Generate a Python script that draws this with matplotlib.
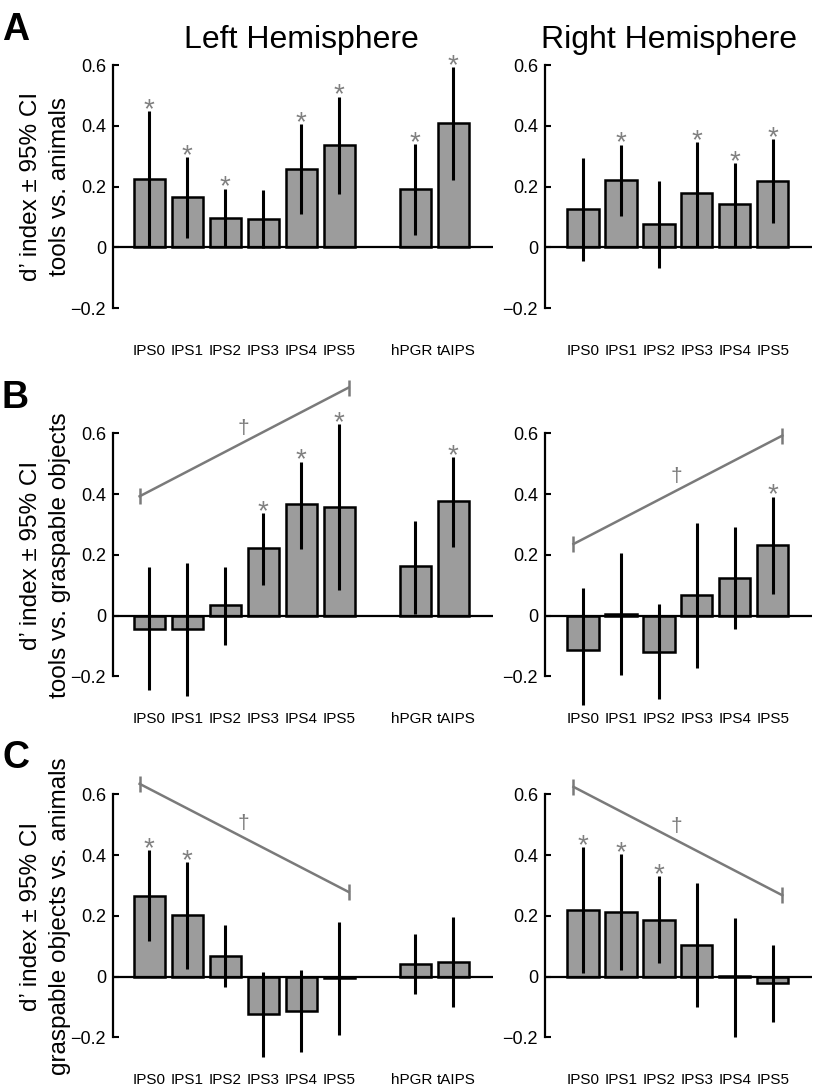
import numpy as np
import matplotlib
matplotlib.use('Agg')
import matplotlib.pyplot as plt
import matplotlib.transforms as mtransforms

plt.rcParams['font.family'] = ['Liberation Sans', 'DejaVu Sans']

# --- Data (d' index, lower / upper 95% CI, significance) ---
left_labels = ['IPS0', 'IPS1', 'IPS2', 'IPS3', 'IPS4', 'IPS5', 'hPGR', 'tAIPS']
right_labels = ['IPS0', 'IPS1', 'IPS2', 'IPS3', 'IPS4', 'IPS5']

# A: tools vs. animals
a_left_mean = [0.226, 0.165, 0.095, 0.092, 0.258, 0.337, 0.192, 0.408]
a_left_hi = [0.449, 0.296, 0.193, 0.189, 0.405, 0.496, 0.340, 0.594]
a_left_lo = [0.002, 0.030, 0.003, -0.002, 0.109, 0.177, 0.041, 0.222]
a_left_sig = [1, 1, 1, 0, 1, 1, 1, 1]

a_right_mean = [0.126, 0.223, 0.077, 0.179, 0.143, 0.218]
a_right_hi = [0.294, 0.338, 0.219, 0.347, 0.276, 0.355]
a_right_lo = [-0.044, 0.104, -0.069, 0.005, 0.005, 0.079]
a_right_sig = [0, 1, 0, 1, 1, 1]

# B: tools vs. graspable objects
b_left_mean = [-0.044, -0.044, 0.034, 0.223, 0.367, 0.358, 0.163, 0.376]
b_left_hi = [0.159, 0.174, 0.159, 0.338, 0.507, 0.630, 0.313, 0.523]
b_left_lo = [-0.245, -0.263, -0.096, 0.102, 0.221, 0.084, 0.007, 0.226]
b_left_sig = [0, 0, 0, 1, 1, 1, 0, 1]

b_right_mean = [-0.114, 0.005, -0.120, 0.067, 0.125, 0.233]
b_right_hi = [0.091, 0.207, 0.038, 0.305, 0.291, 0.392]
b_right_lo = [-0.294, -0.195, -0.274, -0.172, -0.044, 0.073]
b_right_sig = [0, 0, 0, 0, 0, 1]

# C: graspable objects vs. animals
c_left_mean = [0.267, 0.202, 0.069, -0.124, -0.113, -0.004, 0.043, 0.048]
c_left_hi = [0.416, 0.378, 0.170, 0.014, 0.022, 0.179, 0.140, 0.195]
c_left_lo = [0.117, 0.026, -0.033, -0.263, -0.249, -0.192, -0.058, -0.099]
c_left_sig = [1, 1, 0, 0, 0, 0, 0, 0]

c_right_mean = [0.221, 0.214, 0.188, 0.105, 0.001, -0.020]
c_right_hi = [0.427, 0.403, 0.331, 0.310, 0.193, 0.106]
c_right_lo = [0.013, 0.022, 0.044, -0.101, -0.197, -0.148]
c_right_sig = [1, 1, 1, 0, 0, 0]

# trend brackets across IPS0..IPS5 (value at IPS0 end, value at IPS5 end)
b_left_trend = [0.393, 0.751]
b_right_trend = [0.236, 0.593]
c_left_trend = [0.635, 0.279]
c_right_trend = [0.625, 0.268]

ylabels = ['tools vs. animals', 'tools vs. graspable objects', 'graspable objects vs. animals']

# --- Layout (pixels of the 815x1091 canvas) ---
W, H = 815, 1091
PX = 303.75            # pixels per d' unit
YLIM = (-0.31, 0.79)
row_zero = [247.3, 615.7, 976.7]
BAR_COLOR = '#9c9c9c'
GRAY = '#7a7a7a'

fig = plt.figure(figsize=(W / 100, H / 100), dpi=100)


def add_ax(x0, x1, zero):
    top = zero - YLIM[1] * PX
    bot = zero - YLIM[0] * PX
    return fig.add_axes([x0 / W, 1 - bot / H, (x1 - x0) / W, (bot - top) / H])


def draw(ax, labels, mean, lo, hi, sig, xlim, trend):
    # gap of one slot between IPS regions and hPGR/tAIPS
    x = np.array([i if i < 6 else i + 1 for i in range(len(labels))])
    ax.bar(x, mean, width=0.82, color=BAR_COLOR, edgecolor='black', linewidth=1.8, zorder=2)
    ax.vlines(x, lo, hi, color='black', linewidth=2.2, zorder=3)
    ax.axhline(0, color='black', linewidth=1.6, zorder=4)
    for xi, h, s in zip(x, hi, sig):
        if s:
            ax.annotate('*', (xi, h), xytext=(0, -4.3), textcoords='offset points',
                        ha='center', va='baseline', color='#808080', fontsize=20)
    if trend is not None:
        tx = [-0.25, 5.25]
        ax.plot(tx, trend, color=GRAY, linewidth=1.8, zorder=5, clip_on=False)
        ax.plot(tx, trend, linestyle='none', marker='|', markersize=12,
                markeredgewidth=1.8, color=GRAY, zorder=5, clip_on=False)
        mx = 2.47
        my = trend[0] + (trend[1] - trend[0]) * (mx - tx[0]) / (tx[1] - tx[0])
        ax.text(mx, my + 0.045, '\u2020', ha='center', va='center', color=GRAY, fontsize=15)

    ax.set_xlim(*xlim)
    ax.set_ylim(*YLIM)
    ax.set_xticks(x, labels)
    ax.tick_params(axis='x', length=0, labelsize=11, pad=1.5)
    # hPGR / tAIPS labels sit a little apart, as in the original
    for lab in ax.get_xticklabels():
        dx = {'hPGR': -3, 'tAIPS': 3}.get(lab.get_text(), 0)
        if dx:
            lab.set_transform(lab.get_transform() +
                              mtransforms.ScaledTranslation(dx / 100, 0, fig.dpi_scale_trans))
    ax.set_yticks([-0.2, 0, 0.2, 0.4, 0.6], ['\u22120.2', '0', '0.2', '0.4', '0.6'])
    ax.tick_params(axis='y', direction='in', length=4, width=1.5, labelsize=13, pad=5)
    for side in ['top', 'right', 'bottom']:
        ax.spines[side].set_visible(False)
    ax.spines['left'].set_bounds(-0.2, 0.6)
    ax.spines['left'].set_linewidth(1.6)
    ax.patch.set_visible(False)


panels = [
    (a_left_mean, a_left_lo, a_left_hi, a_left_sig, None,
     a_right_mean, a_right_lo, a_right_hi, a_right_sig, None),
    (b_left_mean, b_left_lo, b_left_hi, b_left_sig, b_left_trend,
     b_right_mean, b_right_lo, b_right_hi, b_right_sig, b_right_trend),
    (c_left_mean, c_left_lo, c_left_hi, c_left_sig, c_left_trend,
     c_right_mean, c_right_lo, c_right_hi, c_right_sig, c_right_trend),
]

for row, (lm, ll, lh, ls, lt, rm, rl, rh, rs, rt) in enumerate(panels):
    zero = row_zero[row]
    axl = add_ax(113, 493, zero)
    draw(axl, left_labels, lm, ll, lh, ls, (-0.95, 9.05), lt)
    axr = add_ax(545, 812, zero)
    draw(axr, right_labels, rm, rl, rh, rs, (-1.0, 6.03), rt)

    # two-line y label centred on the spine (-0.2 .. 0.6)
    yc = 1 - (zero - 0.2 * PX) / H
    fig.text(31 / W, yc, 'd\u2019 index \u00b1 95% CI', rotation=90,
             ha='center', va='center', fontsize=17.5)
    fig.text(60 / W, yc, ylabels[row], rotation=90,
             ha='center', va='center', fontsize=17.5)

# Panel letters and hemisphere titles
for letter, base in zip(['A', 'B', 'C'], [40, 408, 768]):
    fig.text(2 / W, 1 - base / H, letter, fontsize=27, fontweight='bold', ha='left', va='baseline')

fig.text(301 / W, 1 - 48 / H, 'Left Hemisphere', fontsize=23, ha='center', va='baseline')
fig.text(669 / W, 1 - 48 / H, 'Right Hemisphere', fontsize=23, ha='center', va='baseline')

plt.savefig('out.png', dpi=100)
